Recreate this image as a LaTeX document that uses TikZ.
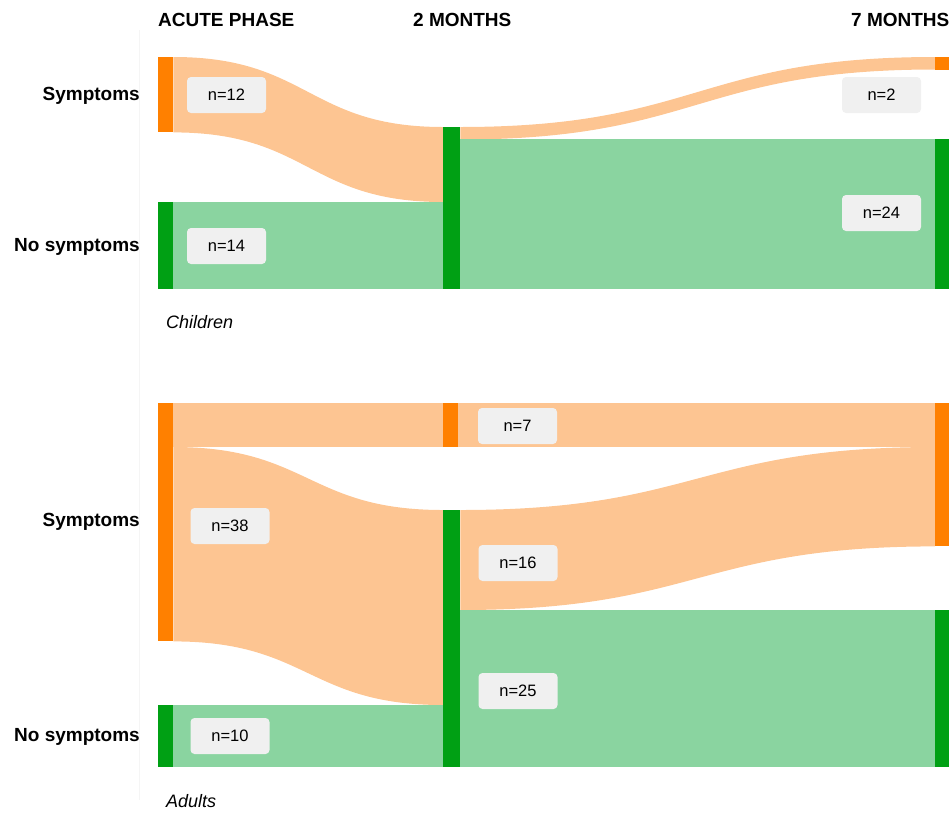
\documentclass[tikz,border=0pt]{standalone}
\usepackage{fontspec}
\setmainfont{Liberation Sans}
\usepackage[dvipsnames,svgnames]{xcolor}
\usepackage{tikz}
\usetikzlibrary{calc,positioning}

\definecolor{barorange}{HTML}{FF8000}
\definecolor{floworange}{HTML}{FDC592}
\definecolor{bargreen}{HTML}{00A014}
\definecolor{flowgreen}{HTML}{8AD4A0}
\definecolor{boxgray}{HTML}{F0F0F0}

\tikzset{
    orangebar/.style={rectangle, fill=barorange, inner sep=0pt, minimum width=15pt, anchor=north west},
    greenbar/.style={rectangle, fill=bargreen, inner sep=0pt, minimum width=16pt, anchor=north west},
    countbox/.style={rectangle, rounded corners=4pt, fill=boxgray, minimum width=79pt, minimum height=36pt, inner sep=0pt, font=\fontsize{16.5}{20}\selectfont},
    rowlabel/.style={anchor=base east, inner sep=0pt, font=\fontsize{19}{22}\selectfont\bfseries},
    phaselabel/.style={anchor=base west, inner sep=0pt, font=\fontsize{19}{22}\selectfont\bfseries},
    grouplabel/.style={anchor=base west, inner sep=0pt, font=\fontsize{18}{22}\selectfont\itshape}
}

\begin{document}
\begin{tikzpicture}[x=1pt,y=-1pt]
    % 画布大小
    \useasboundingbox (0,0) rectangle (949,812);
    \clip (0,0) rectangle (949,812);

    % 浅色边线
    \draw[black!4] (139,30) -- (139,800);

    % 标题
    \node[phaselabel] (acute) at (158,26) {ACUTE PHASE};
    \node[phaselabel] (two) at (413,26) {2 MONTHS};
    \node[phaselabel] (seven) at (851,26) {7 MONTHS};

    % 儿童：各阶段的柱
    \path (158,57) node[orangebar, minimum height=75pt] (cS1) {};
    \path (158,202) node[greenbar, minimum width=15pt, minimum height=87pt] (cN1) {};
    \path (443,127) node[greenbar, minimum width=17pt, minimum height=162pt] (cN2) {};
    \path (935,57) node[orangebar, minimum height=13pt] (cS3) {};
    \path (935,139) node[greenbar, minimum width=15pt, minimum height=150pt] (cN3) {};

    % 儿童：流
    \fill[floworange] (cS1.north east) .. controls +(135,0) and +(-135,0) .. (cN2.north west)
        -- ($(cN2.north west)+(0,75)$) .. controls +(-135,0) and +(135,0) .. (cS1.south east) -- cycle;
    \fill[flowgreen] (cN1.north east) rectangle (cN2.south west);
    \fill[floworange] (cN2.north east) .. controls +(237,0) and +(-237,0) .. (cS3.north west)
        -- ($(cS3.north west)+(0,12.5)$) .. controls +(-237,0) and +(237,0) .. ($(cN2.north east)+(0,12.5)$) -- cycle;
    \fill[flowgreen] ($(cN2.north east)+(0,12)$) rectangle (cN3.south west);

    % 成人：各阶段的柱
    \path (158,403) node[orangebar, minimum height=238pt] (aS1) {};
    \path (158,705) node[greenbar, minimum width=15pt, minimum height=62pt] (aN1) {};
    \path (443,403) node[orangebar, minimum height=44pt] (aS2) {};
    \path (443,510) node[greenbar, minimum width=17pt, minimum height=257pt] (aN2) {};
    \path (935,403) node[orangebar, minimum height=143pt] (aS3) {};
    \path (935,610) node[greenbar, minimum width=15pt, minimum height=157pt] (aN3) {};

    % 成人：流
    \fill[floworange] (aS1.north east) rectangle (aS2.south west);
    \fill[floworange] ($(aS1.north east)+(0,44)$) .. controls +(135,0) and +(-135,0) .. (aN2.north west)
        -- ($(aN2.north west)+(0,195)$) .. controls +(-135,0) and +(135,0) .. (aS1.south east) -- cycle;
    \fill[flowgreen] (aN1.north east) rectangle (aN2.south west);
    \fill[floworange] (aS2.north east) rectangle ($(aS3.north west)+(0,44)$);
    \fill[floworange] (aN2.north east) .. controls +(237,0) and +(-237,0) .. ($(aS3.north west)+(0,44)$)
        -- (aS3.south west) .. controls +(-237,0) and +(237,0) .. ($(aN2.north east)+(0,100)$) -- cycle;
    \fill[flowgreen] ($(aN2.north east)+(0,100)$) rectangle (aN3.south west);

    % 重画柱，盖住流的边缘
    \foreach \bar in {cS1,cS3,aS1,aS2,aS3}
        \fill[barorange] (\bar.north west) rectangle (\bar.south east);
    \foreach \bar in {cN1,cN2,cN3,aN1,aN2,aN3}
        \fill[bargreen] (\bar.north west) rectangle (\bar.south east);

    % 人数标注
    \node[countbox] (c12) at (226.5,95) {n=12};
    \node[countbox] (c14) at (226.5,246) {n=14};
    \node[countbox] (c2) at (881.5,95) {n=2};
    \node[countbox] (c24) at (881.5,213) {n=24};
    \node[countbox] (a7) at (517.5,426) {n=7};
    \node[countbox] (a38) at (230,526) {n=38};
    \node[countbox] (a10) at (230,736) {n=10};
    \node[countbox] (a16) at (518,563) {n=16};
    \node[countbox] (a25) at (518,691) {n=25};

    % 行标签
    \node[rowlabel] (csym) at (140,100) {Symptoms};
    \node[rowlabel] (cno) at (140,251) {No symptoms};
    \node[rowlabel] (asym) at (140,526) {Symptoms};
    \node[rowlabel] (ano) at (140,741) {No symptoms};

    % 分组标签
    \node[grouplabel] (children) at (166,328) {Children};
    \node[grouplabel] (adults) at (166,807) {Adults};
\end{tikzpicture}
\end{document}
